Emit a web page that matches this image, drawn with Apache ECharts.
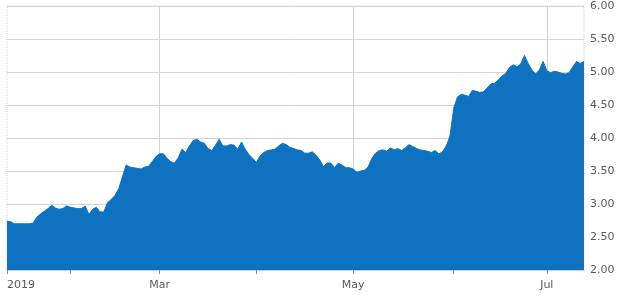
<!DOCTYPE html>
<html>
<head>
<meta charset="utf-8">
<script src="https://cdn.jsdelivr.net/npm/echarts@6/dist/echarts.min.js"></script>
<style>
html,body{margin:0;padding:0;background:#fff;}
#chart{width:618px;height:299px;}
</style>
</head>
<body>
<div id="chart"></div>
<script>
// Month names and the trading-day index where each month starts
const monthNames = ['2019', 'Feb', 'Mar', 'Apr', 'May', 'Jun', 'Jul'];
const monthStart = [0, 17, 41, 67, 93, 120, 145];
const labeledMonths = ['2019', 'Mar', 'May', 'Jul'];
const gridMonths = ['Mar', 'May', 'Jul'];
const dayCount = 156;

// Price values, one per trading day
const values = [
  2.74, 2.73, 2.70, 2.70, 2.70, 2.70, 2.70, 2.71, 2.80, 2.85,
  2.89, 2.93, 2.98, 2.94, 2.92, 2.93, 2.97, 2.95, 2.94, 2.93,
  2.93, 2.97, 2.84, 2.92, 2.95, 2.88, 2.88, 3.02, 3.07, 3.13,
  3.23, 3.41, 3.59, 3.56, 3.55, 3.54, 3.53, 3.56, 3.57, 3.64,
  3.72, 3.76, 3.76, 3.69, 3.64, 3.62, 3.70, 3.83, 3.78, 3.88,
  3.96, 3.98, 3.94, 3.92, 3.84, 3.81, 3.89, 3.98, 3.88, 3.88,
  3.90, 3.89, 3.83, 3.94, 3.83, 3.75, 3.69, 3.63, 3.73, 3.78,
  3.81, 3.82, 3.83, 3.88, 3.92, 3.90, 3.86, 3.84, 3.82, 3.81,
  3.77, 3.77, 3.79, 3.74, 3.67, 3.57, 3.62, 3.62, 3.55, 3.62,
  3.59, 3.55, 3.55, 3.53, 3.48, 3.50, 3.51, 3.56, 3.69, 3.77,
  3.81, 3.82, 3.80, 3.85, 3.82, 3.84, 3.81, 3.85, 3.90, 3.87,
  3.84, 3.82, 3.81, 3.80, 3.78, 3.81, 3.76, 3.79, 3.88, 4.03,
  4.45, 4.62, 4.66, 4.65, 4.63, 4.72, 4.71, 4.69, 4.70, 4.76,
  4.82, 4.83, 4.88, 4.94, 4.98, 5.07, 5.11, 5.08, 5.12, 5.25,
  5.13, 5.03, 4.97, 5.03, 5.16, 5.02, 4.99, 5.01, 5.00, 4.98,
  4.97, 4.99, 5.08, 5.16, 5.13, 5.16
];

// Category labels: month name + day number within the month
const categories = [];
for (let i = 0; i < dayCount; i++) {
  let m = 0;
  for (let k = 0; k < monthStart.length; k++) if (i >= monthStart[k]) m = k;
  categories.push(monthNames[m] + '|' + (i - monthStart[m]));
}
const isMonthStart = (i) => monthStart.indexOf(i) >= 0;
const monthOf = (v) => String(v).split('|')[0];
const dayOf = (v) => +String(v).split('|')[1];

const chart = echarts.init(document.getElementById('chart'), null, {renderer: 'canvas'});
chart.setOption({
  animation: false,
  backgroundColor: '#ffffff',
  grid: {
    left: 7, right: 34, top: 6, bottom: 29,
    show: true, borderColor: '#cfcfcf', borderWidth: 1, borderType: 'dotted'
  },
  xAxis: {
    type: 'category',
    data: categories,
    boundaryGap: false,
    axisLine: {show: true, lineStyle: {color: '#c8c8c8', type: 'dotted'}},
    axisTick: {
      show: true, length: 4, lineStyle: {color: '#8a8a8a'},
      interval: (i) => isMonthStart(i)
    },
    axisLabel: {
      interval: (i, v) => dayOf(v) === 0 && labeledMonths.indexOf(monthOf(v)) >= 0,
      formatter: (v) => monthOf(v),
      color: '#5a5a5a', fontFamily: 'DejaVu Sans', fontSize: 11, margin: 10,
      alignMinLabel: 'left'
    },
    splitLine: {
      show: true, lineStyle: {color: '#d4d4d4', width: 1},
      interval: (i, v) => dayOf(v) === 0 && gridMonths.indexOf(monthOf(v)) >= 0
    }
  },
  yAxis: {
    type: 'value',
    position: 'right',
    min: 2, max: 6, interval: 0.5,
    axisLine: {show: false},
    axisTick: {show: false},
    axisLabel: {
      formatter: (v) => v.toFixed(2),
      color: '#5a5a5a', fontFamily: 'DejaVu Sans', fontSize: 11, margin: 6
    },
    splitLine: {show: true, lineStyle: {color: '#d4d4d4', width: 1}}
  },
  series: [{
    type: 'line',
    data: values,
    symbol: 'none',
    smooth: false,
    lineStyle: {color: '#0e72c0', width: 1},
    areaStyle: {color: '#0e72c0', opacity: 1},
    itemStyle: {color: '#0e72c0'}
  }]
});
</script>
</body>
</html>
